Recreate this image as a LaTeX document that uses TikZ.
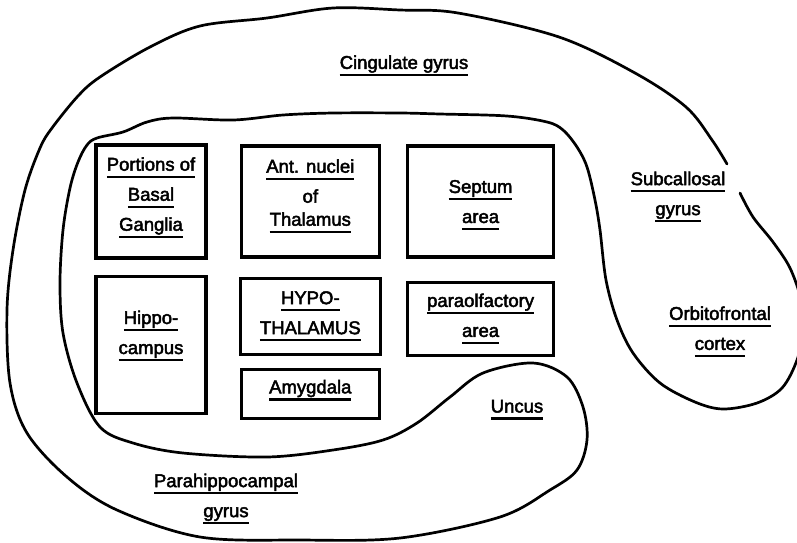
\documentclass[tikz,border=0pt]{standalone}
\usepackage{fontspec}
\setmainfont{Liberation Sans}[BoldFont={Liberation Sans}, BoldFeatures={FakeBold=2.5}]
\usetikzlibrary{positioning}

% underlined line of text, rule kept at one depth
\newlength\ulnwd
\newcommand\uln[1]{\settowidth{\ulnwd}{#1}\rlap{\rule[-7.2pt]{\ulnwd}{2.3pt}}#1}

\begin{document}
\begin{tikzpicture}[x=1pt, y=-1pt,
    brain box/.style={draw, rectangle, line width=3.3pt, inner sep=0pt, align=center, font=\fontsize{18.5}{30}\selectfont\bfseries},
    area label/.style={inner sep=0pt, align=center, font=\fontsize{18.5}{30}\selectfont\bfseries},
    lobe line/.style={line width=2.7pt, line cap=round, line join=round}]
    \useasboundingbox (0,0) rectangle (797,542);
    \clip (0,0) rectangle (797,542);

    % the boxes
    \node[brain box, minimum width=110pt, minimum height=113pt, text depth=15pt] (basal) at (151,201.5) {\uln{Portions of} \\ \uln{Basal} \\ \uln{Ganglia}};
    \node[brain box, minimum width=138pt, minimum height=111pt, text depth=18pt, right=32pt of basal] (ant) {\uln{Ant. nuclei} \\ of \\[-7pt] \uln{Thalamus}};
    \node[brain box, minimum width=146pt, minimum height=111pt, text depth=-5pt, right=25pt of ant] (septum) {\uln{Septum} \\ \uln{area}};
    \node[brain box, minimum width=110pt, minimum height=137pt, text depth=25pt, below=15pt of basal] (hippo) {\uln{Hippo-} \\ \uln{campus}};
    \node[brain box, minimum width=140pt, minimum height=76pt, below=18pt of ant] (hypo) {\uln{HYPO-} \\ \uln{THALAMUS}};
    \node[brain box, minimum width=138pt, minimum height=49pt, text depth=15pt, below=12pt of hypo] (amyg) {\uln{Amygdala}};
    \node[brain box, minimum width=146pt, minimum height=73pt, below=22pt of septum] (paraolf) {\uln{paraolfactory} \\ \uln{area}};

    % the labels round them
    \node[area label] (cingulate) at (404,65.75) {\uln{Cingulate gyrus}};
    \node[area label] (subcallosal) at (678,197) {\uln{Subcallosal} \\ \uln{gyrus}};
    \node[area label] (orbito) at (720,331.75) {\uln{Orbitofrontal} \\ \uln{cortex}};
    \node[area label] (uncus) at (517,409.75) {\uln{Uncus}};
    \node[area label] (parahippo) at (226,499) {\uln{Parahippocampal} \\ \uln{gyrus}};

    % the limbic outline
    \draw[lobe line] plot[smooth, tension=0.55] coordinates {
        (740,193) (753,217) (773,242) (790,268) (801,300) (803,330) (797,360)
        (782,388) (757,403) (723,409) (695,402) (660,383) (633,353) (617,320)
        (606,280) (600,230) (595,200) (587,167) (577,147) (563,130) (547,122)
        (507,116) (440,114) (400,113) (333,113) (283,115) (233,120) (173,118)
        (147,122) (123,132) (97,138) (87,145) (78,162) (70,188) (63,230)
        (60,283) (63,333) (77,383) (100,427) (133,443) (183,453) (267,457)
        (333,450) (383,440) (417,423) (450,397) (483,373) (533,363) (567,377)
        (583,407) (587,440) (577,470) (550,490) (500,517) (400,538) (300,540)
        (200,537) (117,510) (67,477) (27,433) (10,383) (7,310) (13,250)
        (25,190) (40,148) (52,128) (78,96) (100,77) (150,47) (200,26)
        (267,18) (333,8) (400,10) (458,13) (559,37) (635,73) (686,107)
        (712,140) (727,164)};
\end{tikzpicture}
\end{document}
